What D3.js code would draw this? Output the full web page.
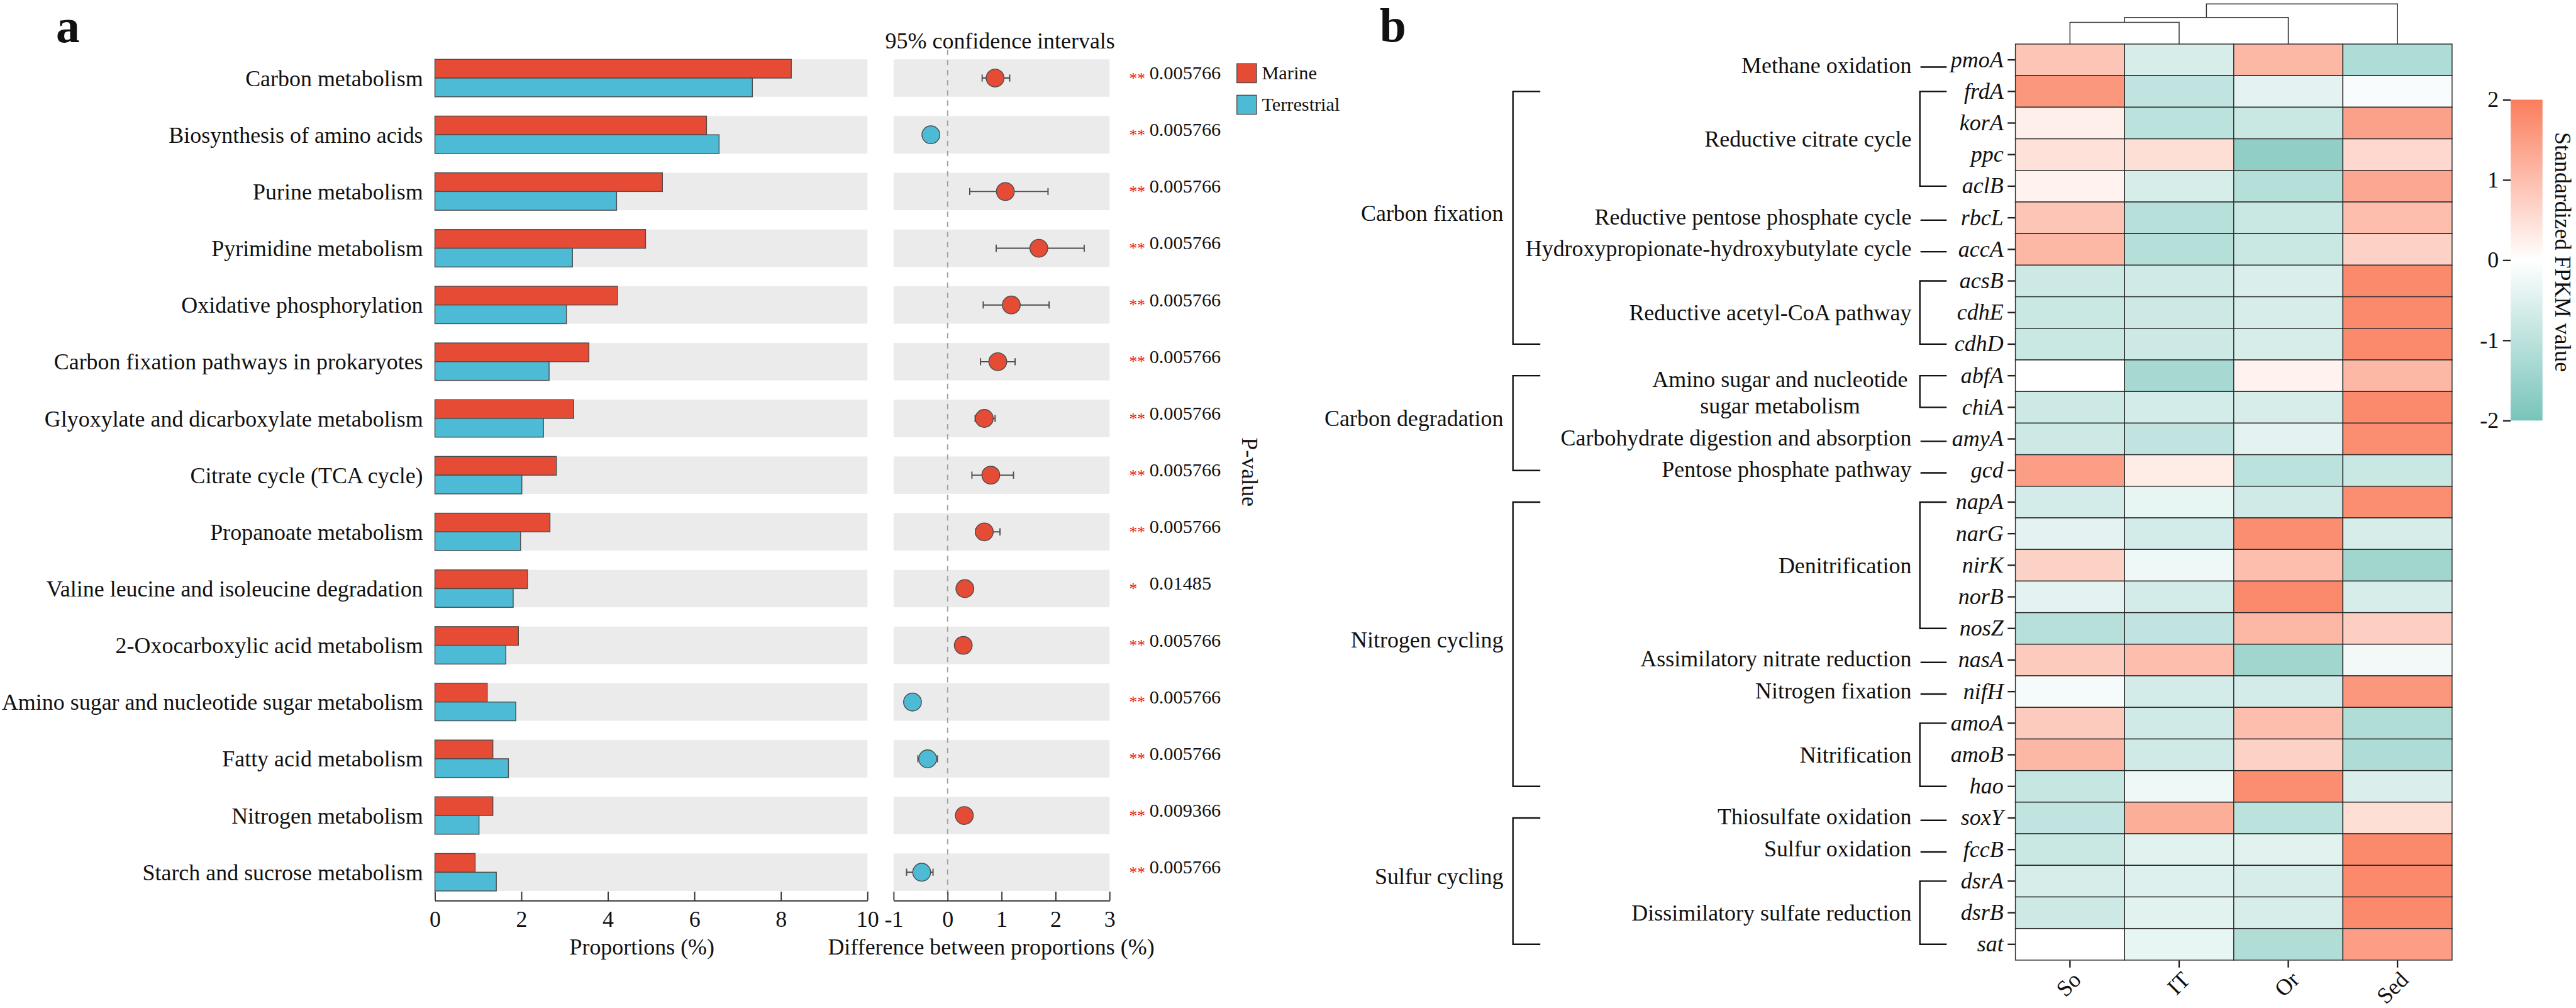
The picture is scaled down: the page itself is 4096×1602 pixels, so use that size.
<!DOCTYPE html>
<html>
<head>
<meta charset="utf-8">
<script src="https://cdn.jsdelivr.net/npm/d3@7"></script>
<style>
body { margin: 0; background: #fff; }
text { font-family: "Liberation Serif", "Times New Roman", serif; fill: #111; }
</style>
</head>
<body>
<script>
// ---- panel a data ----
const pathways = ["Carbon metabolism", "Biosynthesis of amino acids", "Purine metabolism",
	"Pyrimidine metabolism", "Oxidative phosphorylation", "Carbon fixation pathways in prokaryotes",
	"Glyoxylate and dicarboxylate metabolism", "Citrate cycle (TCA cycle)", "Propanoate metabolism",
	"Valine leucine and isoleucine degradation", "2-Oxocarboxylic acid metabolism",
	"Amino sugar and nucleotide sugar metabolism", "Fatty acid metabolism", "Nitrogen metabolism",
	"Starch and sucrose metabolism"];
const marine = [8.24, 6.28, 5.26, 4.87, 4.22, 3.56, 3.21, 2.81, 2.66, 2.14, 1.93, 1.21, 1.34, 1.34, 0.93];
const terrestrial = [7.34, 6.57, 4.20, 3.18, 3.04, 2.64, 2.51, 2.01, 1.98, 1.81, 1.64, 1.87, 1.70, 1.02, 1.42];
const diff = [0.88, -0.31, 1.07, 1.69, 1.18, 0.93, 0.68, 0.80, 0.68, 0.32, 0.29, -0.65, -0.37, 0.31, -0.48];
const ciLow = [0.64, -0.39, 0.41, 0.90, 0.66, 0.61, 0.51, 0.45, 0.52, 0.25, 0.22, -0.72, -0.55, 0.24, -0.76];
const ciHigh = [1.15, -0.23, 1.86, 2.53, 1.88, 1.25, 0.88, 1.22, 0.97, 0.39, 0.36, -0.58, -0.19, 0.38, -0.27];
const pValues = ["0.005766", "0.005766", "0.005766", "0.005766", "0.005766", "0.005766", "0.005766",
	"0.005766", "0.005766", "0.01485", "0.005766", "0.005766", "0.005766", "0.009366", "0.005766"];
const stars = ["**", "**", "**", "**", "**", "**", "**", "**", "**", "*", "**", "**", "**", "**", "**"];
const groups = ["Marine", "Terrestrial"];
const barTicks = [0, 2, 4, 6, 8, 10];
const ciTicks = [-1, 0, 1, 2, 3];

// ---- panel b data ----
const samples = ["So", "IT", "Or", "Sed"];
const genes = ["pmoA", "frdA", "korA", "ppc", "aclB", "rbcL", "accA", "acsB", "cdhE", "cdhD",
	"abfA", "chiA", "amyA", "gcd", "napA", "narG", "nirK", "norB", "nosZ", "nasA", "nifH",
	"amoA", "amoB", "hao", "soxY", "fccB", "dsrA", "dsrB", "sat"];
// standardized FPKM, columns So, IT, Or, Sed
const zScores = [
	[0.9, -0.6, 1.1, -1.2],
	[1.6, -0.9, -0.4, -0.1],
	[0.25, -1.0, -0.8, 1.45],
	[0.45, 0.5, -1.65, 0.6],
	[0.2, -0.6, -1.1, 1.35],
	[0.9, -1.05, -0.8, 1.0],
	[1.1, -1.1, -0.8, 0.7],
	[-0.75, -0.7, -0.55, 1.8],
	[-0.8, -0.75, -0.6, 1.8],
	[-0.8, -0.75, -0.6, 1.8],
	[0.0, -1.3, 0.2, 1.1],
	[-0.75, -0.65, -0.6, 1.8],
	[-0.75, -0.9, -0.4, 1.75],
	[1.5, 0.3, -1.0, -0.8],
	[-0.65, -0.35, -0.7, 1.75],
	[-0.4, -0.65, 1.75, -0.6],
	[0.7, -0.25, 1.0, -1.4],
	[-0.4, -0.65, 1.8, -0.6],
	[-1.05, -0.9, 1.1, 0.75],
	[0.8, 1.0, -1.4, -0.2],
	[-0.15, -0.65, -0.65, 1.6],
	[0.8, -0.7, 1.0, -1.15],
	[1.1, -0.7, 0.7, -1.2],
	[-0.85, -0.25, 1.75, -0.55],
	[-0.9, 1.25, -1.0, 0.5],
	[-0.8, -0.45, -0.45, 1.8],
	[-0.6, -0.5, -0.6, 1.8],
	[-0.75, -0.45, -0.6, 1.8],
	[0.0, -0.35, -1.15, 1.5]
];
const colorTicks = [-2, -1, 0, 1, 2];
// column clustering: merge heights (relative)
const dendrogram = {h: 1.0, children: [
	{h: 0.66, children: [{h: 0.54, children: [{name: "So", h: 0}, {name: "IT", h: 0}]}, {name: "Or", h: 0}]},
	{name: "Sed", h: 0}
]};
const categories = [
	{label: "Carbon fixation", from: "frdA", to: "cdhD"},
	{label: "Carbon degradation", from: "abfA", to: "gcd"},
	{label: "Nitrogen cycling", from: "napA", to: "hao"},
	{label: "Sulfur cycling", from: "soxY", to: "sat"}
];
const functions = [
	{label: ["Methane oxidation"], from: "pmoA", to: "pmoA"},
	{label: ["Reductive citrate cycle"], from: "frdA", to: "aclB"},
	{label: ["Reductive pentose phosphate cycle"], from: "rbcL", to: "rbcL"},
	{label: ["Hydroxypropionate-hydroxybutylate cycle"], from: "accA", to: "accA"},
	{label: ["Reductive acetyl-CoA pathway"], from: "acsB", to: "cdhD"},
	{label: ["Amino sugar and nucleotide", "sugar metabolism"], from: "abfA", to: "chiA"},
	{label: ["Carbohydrate digestion and absorption"], from: "amyA", to: "amyA"},
	{label: ["Pentose phosphate pathway"], from: "gcd", to: "gcd"},
	{label: ["Denitrification"], from: "napA", to: "nosZ"},
	{label: ["Assimilatory nitrate reduction"], from: "nasA", to: "nasA"},
	{label: ["Nitrogen fixation"], from: "nifH", to: "nifH"},
	{label: ["Nitrification"], from: "amoA", to: "hao"},
	{label: ["Thiosulfate oxidation"], from: "soxY", to: "soxY"},
	{label: ["Sulfur oxidation"], from: "fccB", to: "fccB"},
	{label: ["Dissimilatory sulfate reduction"], from: "dsrA", to: "sat"}
];

const width = 4096;
const height = 1602;
const k = 0.946; // reference drawn at 4328 x 1693

const colMarine = "#E64B35";
const colTerr = "#4DBBD5";
const edge = "#4d4d4d";

const svg = d3.select("body")
	.append("svg")
	.attr("width", width)
	.attr("height", height);

const root = svg.append("g").attr("transform", "scale(" + k + ")");

// ===================== panel a =====================
const y = d3.scaleBand()
	.domain(pathways)
	.range([83.5, 1513])
	.paddingInner(0.34)
	.paddingOuter(0.17);
const bw = y.bandwidth();
const xBar = d3.scaleLinear().domain([0, 10]).range([731, 1458]);
const xCI = d3.scaleLinear().domain([-1, 3]).range([1502, 1865]);

root.append("text").attr("x", 94).attr("y", 71)
	.style("font-size", "80px").style("font-weight", "bold").text("a");

// grey bands
root.selectAll("rect.bandA")
	.data(pathways).enter().append("rect")
	.attr("x", xBar(0)).attr("width", xBar(10) - xBar(0))
	.attr("y", d => y(d)).attr("height", bw)
	.attr("fill", "#ebebeb");
root.selectAll("rect.bandB")
	.data(pathways).enter().append("rect")
	.attr("x", xCI(-1)).attr("width", xCI(3) - xCI(-1))
	.attr("y", d => y(d)).attr("height", bw)
	.attr("fill", "#ebebeb");

// bars
root.selectAll("rect.marine")
	.data(pathways).enter().append("rect")
	.attr("x", xBar(0)).attr("y", d => y(d))
	.attr("width", (d, i) => xBar(marine[i]) - xBar(0)).attr("height", bw / 2)
	.attr("fill", colMarine).attr("stroke", edge).attr("stroke-width", 1.5);
root.selectAll("rect.terr")
	.data(pathways).enter().append("rect")
	.attr("x", xBar(0)).attr("y", d => y(d) + bw / 2)
	.attr("width", (d, i) => xBar(terrestrial[i]) - xBar(0)).attr("height", bw / 2)
	.attr("fill", colTerr).attr("stroke", edge).attr("stroke-width", 1.5);

// category labels
root.selectAll("text.cat")
	.data(pathways).enter().append("text")
	.attr("x", 711).attr("y", d => y(d) + bw / 2).attr("dy", "0.35em")
	.attr("text-anchor", "end").style("font-size", "38px")
	.text(d => d);

// zero line
root.append("line")
	.attr("x1", xCI(0)).attr("x2", xCI(0)).attr("y1", 83.5).attr("y2", 1513)
	.attr("stroke", "#a0a0a0").attr("stroke-width", 2).attr("stroke-dasharray", "9,8");

// confidence intervals
const ci = root.selectAll("g.ci")
	.data(pathways).enter().append("g")
	.attr("transform", d => "translate(0," + (y(d) + bw / 2) + ")");
ci.append("line")
	.attr("x1", (d, i) => xCI(ciLow[i])).attr("x2", (d, i) => xCI(ciHigh[i]))
	.attr("stroke", edge).attr("stroke-width", 2);
ci.append("line")
	.attr("x1", (d, i) => xCI(ciLow[i])).attr("x2", (d, i) => xCI(ciLow[i]))
	.attr("y1", -6).attr("y2", 6).attr("stroke", edge).attr("stroke-width", 2);
ci.append("line")
	.attr("x1", (d, i) => xCI(ciHigh[i])).attr("x2", (d, i) => xCI(ciHigh[i]))
	.attr("y1", -6).attr("y2", 6).attr("stroke", edge).attr("stroke-width", 2);
ci.append("circle")
	.attr("cx", (d, i) => xCI(diff[i])).attr("r", 15)
	.attr("fill", (d, i) => diff[i] > 0 ? colMarine : colTerr)
	.attr("stroke", edge).attr("stroke-width", 1.5);

// p-values
ci.append("text")
	.attr("x", 1898).attr("y", 9)
	.style("font-size", "27px").style("fill", "#ee1111")
	.text((d, i) => stars[i]);
ci.append("text")
	.attr("x", 1932).attr("y", 2)
	.style("font-size", "32px")
	.text((d, i) => pValues[i]);

// axes
function styleAxis(g) {
	g.attr("font-family", null).attr("font-size", null);
	g.select(".domain").attr("stroke", "#333").attr("stroke-width", 2);
	g.selectAll(".tick line").attr("stroke", "#333").attr("stroke-width", 2);
	g.selectAll(".tick text").style("font-size", "38px").attr("fill", "#111");
}
root.append("g")
	.attr("transform", "translate(0,1513)")
	.call(d3.axisBottom(xBar).tickValues(barTicks).tickFormat(d => String(d))
		.tickSizeInner(-15).tickSizeOuter(0).tickPadding(17))
	.call(styleAxis);
root.append("g")
	.attr("transform", "translate(0,1513)")
	.call(d3.axisBottom(xCI).tickValues(ciTicks).tickFormat(d => String(d))
		.tickSizeInner(-15).tickSizeOuter(0).tickPadding(17))
	.call(styleAxis);

root.append("text").attr("x", 1079).attr("y", 1604)
	.attr("text-anchor", "middle").style("font-size", "38px").text("Proportions (%)");
root.append("text").attr("x", 1666).attr("y", 1604)
	.attr("text-anchor", "middle").style("font-size", "38px").text("Difference between proportions (%)");
root.append("text").attr("x", 1681).attr("y", 81)
	.attr("text-anchor", "middle").style("font-size", "38px").text("95% confidence intervals");
root.append("text")
	.attr("transform", "translate(2101,793) rotate(90)")
	.attr("text-anchor", "middle").attr("dy", "0.35em")
	.style("font-size", "38px").text("P-value");

// legend
const legend = root.selectAll("g.legend")
	.data(groups).enter().append("g")
	.attr("transform", (d, i) => "translate(2079," + (107 + i * 53) + ")");
legend.append("rect")
	.attr("width", 33).attr("height", 32)
	.attr("fill", (d, i) => i === 0 ? colMarine : colTerr)
	.attr("stroke", edge).attr("stroke-width", 1.5);
legend.append("text")
	.attr("x", 42).attr("y", 26)
	.style("font-size", "32px").text(d => d);

// ===================== panel b =====================
root.append("text").attr("x", 2319).attr("y", 70)
	.style("font-size", "80px").style("font-weight", "bold").text("b");

const xH = d3.scaleBand().domain(samples).range([3387.5, 4121.5]);
const yH = d3.scaleBand().domain(genes).range([74, 1613]);
const color = d3.scaleLinear()
	.domain([-2, 0, 2])
	.range(["#78C4BA", "#ffffff", "#FA7D5C"])
	.clamp(true);

const cells = [];
genes.forEach((g, i) => samples.forEach((s, j) => cells.push({gene: g, sample: s, value: zScores[i][j]})));

root.selectAll("rect.cell")
	.data(cells).enter().append("rect")
	.attr("x", d => xH(d.sample)).attr("y", d => yH(d.gene))
	.attr("width", xH.bandwidth()).attr("height", yH.bandwidth())
	.attr("fill", d => color(d.value))
	.attr("stroke", "#2a2a2a").attr("stroke-width", 1.5);

// gene axis
const gy = root.append("g")
	.attr("transform", "translate(3387.5,0)")
	.call(d3.axisLeft(yH).tickSize(13).tickPadding(7));
gy.attr("font-family", null).attr("font-size", null);
gy.select(".domain").remove();
gy.selectAll(".tick line").attr("stroke", "#222").attr("stroke-width", 2.5);
gy.selectAll(".tick text").style("font-size", "38px").style("font-style", "italic").attr("fill", "#111");

// sample axis
const gx = root.append("g")
	.attr("transform", "translate(0,1613.5)")
	.call(d3.axisBottom(xH).tickSize(12).tickSizeOuter(0));
gx.attr("font-family", null).attr("font-size", null);
gx.select(".domain").remove();
gx.selectAll(".tick line").attr("stroke", "#222").attr("stroke-width", 2.5);
gx.selectAll(".tick text")
	.attr("x", 0).attr("y", 0).attr("dy", "0.66em")
	.attr("transform", "translate(3,17) rotate(-45)")
	.attr("text-anchor", "end")
	.style("font-size", "38px").attr("fill", "#111");

// dendrogram
const hy = d3.scaleLinear().domain([0, 1]).range([74, 6.5]);
const tree = d3.hierarchy(dendrogram);
tree.eachAfter(n => {
	n.px = n.children ? d3.mean(n.children, c => c.px) : xH(n.data.name) + xH.bandwidth() / 2;
});
const dendroLines = [];
tree.each(n => {
	if (!n.children) return;
	const top = hy(n.data.h);
	const xs = n.children.map(c => c.px);
	dendroLines.push("M" + xs[0] + "," + hy(n.children[0].data.h) + "V" + top +
		"H" + xs[1] + "V" + hy(n.children[1].data.h));
});
root.selectAll("path.dendro")
	.data(dendroLines).enter().append("path")
	.attr("d", d => d).attr("fill", "none")
	.attr("stroke", "#333").attr("stroke-width", 1.6);

// function (pathway) annotations
const rowMid = g => yH(g) + yH.bandwidth() / 2;
functions.forEach(f => {
	const y1 = rowMid(f.from);
	const y2 = rowMid(f.to);
	const single = f.from === f.to;
	const shift = f.from === "pmoA" ? 8 : 0;
	if (single) {
		root.append("line")
			.attr("x1", 3228).attr("x2", 3272)
			.attr("y1", y1 + 4 + shift).attr("y2", y1 + 4 + shift)
			.attr("stroke", "#111").attr("stroke-width", 2.5);
	} else {
		root.append("path")
			.attr("d", "M3272," + y1 + "H3227V" + y2 + "H3272")
			.attr("fill", "none").attr("stroke", "#111").attr("stroke-width", 2.5);
	}
	const mid = (y1 + y2) / 2;
	if (f.label.length === 1) {
		root.append("text")
			.attr("x", 3213).attr("y", mid + (single ? 11 + shift * 1.4 : 13))
			.attr("text-anchor", "end").style("font-size", "38px")
			.text(f.label[0]);
	} else {
		root.append("text")
			.attr("x", 2992).attr("y", mid - 8)
			.attr("text-anchor", "middle").style("font-size", "38px")
			.text(f.label[0]);
		root.append("text")
			.attr("x", 2992).attr("y", mid + 37)
			.attr("text-anchor", "middle").style("font-size", "38px")
			.text(f.label[1]);
	}
});

// category brackets
categories.forEach(c => {
	const y1 = rowMid(c.from);
	const y2 = rowMid(c.to);
	root.append("path")
		.attr("d", "M2589," + y1 + "H2543V" + y2 + "H2589")
		.attr("fill", "none").attr("stroke", "#111").attr("stroke-width", 2.5);
	root.append("text")
		.attr("x", 2527).attr("y", (y1 + y2) / 2 + 5)
		.attr("text-anchor", "end").style("font-size", "38px")
		.text(c.label);
});

// colour bar
const defs = svg.append("defs");
const grad = defs.append("linearGradient")
	.attr("id", "zgrad").attr("x1", 0).attr("y1", 1).attr("x2", 0).attr("y2", 0);
colorTicks.forEach(t => {
	grad.append("stop")
		.attr("offset", (t + 2) / 4)
		.attr("stop-color", color(t));
});
const yC = d3.scaleLinear().domain([-2, 2]).range([706.5, 167.5]);
root.append("rect")
	.attr("x", 4220).attr("y", yC(2))
	.attr("width", 53.5).attr("height", yC(-2) - yC(2))
	.attr("fill", "url(#zgrad)");
const gc = root.append("g")
	.attr("transform", "translate(4220,0)")
	.call(d3.axisLeft(yC).tickValues(colorTicks).tickFormat(d => String(d)).tickSize(13).tickPadding(7));
gc.attr("font-family", null).attr("font-size", null);
gc.select(".domain").remove();
gc.selectAll(".tick line").attr("stroke", "#222").attr("stroke-width", 2.5);
gc.selectAll(".tick text").style("font-size", "38px").attr("fill", "#111");
root.append("text")
	.attr("transform", "translate(4308.5,423.5) rotate(90)")
	.attr("text-anchor", "middle").attr("dy", "0.35em")
	.style("font-size", "38px").text("Standardized FPKM value");
</script>
</body>
</html>
